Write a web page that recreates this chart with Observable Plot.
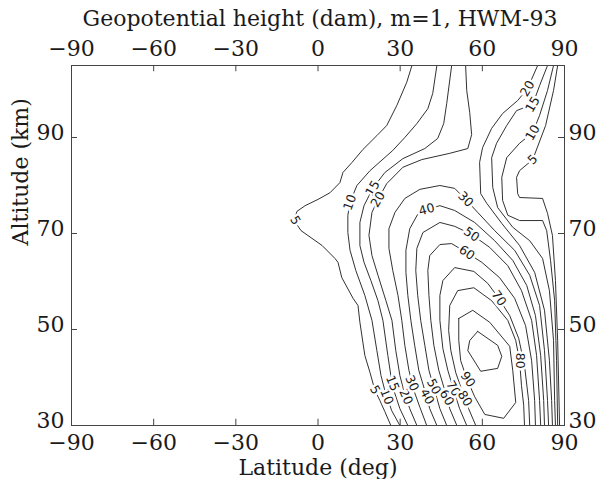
<!DOCTYPE html>
<html><head><meta charset="utf-8">
<script src="https://cdn.jsdelivr.net/npm/d3@7"></script>
<script src="https://cdn.jsdelivr.net/npm/@observablehq/plot@0.6"></script>
<style>html,body{margin:0;padding:0;background:#fff}svg{display:block}</style>
</head><body><div id="chart"></div>
<script>
// Axis ticks
const xTicks = [-90, -60, -30, 0, 30, 60, 90];
const yTicks = [30, 50, 70, 90];

// Contour lines, [latitude (deg), altitude (km)]
const c5Left = [[34.3,105],[32.4,101.5],[28.8,96.7],[25.1,92.5],[21.5,90.4],[16.4,87.5],[12.4,84.8],[9.1,82.7],[8.0,80.6],[4.4,78.5],[0,77.1],[-4.7,75.8],[-7.7,74.6],[-8.7,72.7],[-6.2,70.6],[1.5,67.5],[6.2,64.8],[7.3,64.0],[8.7,60.8],[12.8,56.5],[14.6,55.0],[15.3,51.5],[17.1,44.6],[19.0,41.0],[20.8,37.3],[22.6,35.2],[24.4,32.9],[26.6,30]];
const c10Left = [[43.4,105],[41.9,99.2],[40.1,96.0],[36.1,92.9],[31.7,90.0],[27.3,87.3],[19.0,83.1],[14.2,80.0],[11.7,76.5],[10.9,73.8],[10.9,70.2],[11.7,66.5],[13.8,62.3],[17.1,57.1],[19.7,51.9],[21.5,45.6],[23.0,40.4],[24.4,37.3],[26.9,33.1],[29.9,30]];
const c15Left = [[48.8,105],[47.0,97.1],[45.9,92.9],[43.7,89.8],[39.0,87.7],[31.0,85.6],[24.4,82.7],[20.0,79.4],[16.8,75.8],[15.3,72.3],[15.3,67.5],[16.8,64.0],[19.3,60.2],[21.9,56.0],[23.7,51.9],[25.5,44.6],[26.6,40.4],[27.7,37.3],[29.9,33.5],[32.8,30]];
const c20Left = [[53.9,105],[54.3,99.8],[55.4,95.2],[56.1,90.6],[54.7,87.7],[48.1,86.7],[37.9,85.4],[31.0,83.8],[25.1,80.4],[21.9,77.1],[19.7,74.4],[18.6,69.6],[19.7,65.4],[21.9,61.3],[24.8,56.0],[27.0,51.9],[28.4,45.6],[29.9,40.4],[31.3,37.3],[33.5,33.5],[36.1,30]];
const c20Right = [[80.2,105],[76.5,100.2],[72.9,97.7],[67.4,95.0],[63.4,91.9],[60.1,87.9],[59.0,84.8],[59.4,78.3],[61.6,76.3],[67.1,72.1],[73.6,67.5],[79.1,61.9],[82.7,54.0],[84.5,43.5],[85.3,35.2],[85.6,30]];
const c15Right = [[83.8,105],[80.9,100.8],[78.4,96.9],[72.5,95.6],[68.9,92.5],[65.2,88.8],[63.4,85.8],[63.8,79.6],[65.6,75.4],[71.1,71.3],[77.3,68.5],[82.0,64.8],[84.5,58.1],[86.0,47.7],[86.4,35.2],[86.7,30]];
const c10Right = [[86.0,105],[83.8,99.8],[80.9,94.6],[78.4,91.0],[73.6,88.8],[68.9,85.8],[67.1,81.7],[67.4,76.9],[69.3,73.8],[73.6,72.7],[82.0,72.7],[83.5,70.6],[84.9,64.4],[86.4,56.0],[87.1,43.5],[87.5,30]];
const c5Right = [[87.5,105],[86.0,99.8],[83.1,92.5],[78.4,85.4],[73.6,83.1],[72.5,81.7],[72.9,78.3],[73.6,77.5],[82.0,77.3],[83.8,74.2],[85.6,69.6],[86.7,60.2],[87.5,47.7],[88.2,30]];
const c30 = [[39.7,30],[37.2,33.8],[35.0,37.3],[33.2,41.5],[31.7,46.7],[30.6,51.9],[29.2,57.1],[27.3,62.3],[25.9,66.9],[25.9,71.0],[28.1,74.4],[31.7,77.3],[37.2,79.2],[44.5,80.0],[49.9,79.4],[53.9,77.1],[58.3,74.4],[64.5,70.6],[71.8,66.5],[77.3,61.3],[80.9,55.0],[82.7,45.6],[83.8,35.2],[84.2,30]];
const c40 = [[43.4,30],[40.8,33.5],[39.0,37.3],[36.8,41.5],[35.3,46.7],[33.9,51.9],[32.8,57.1],[32.1,61.9],[32.1,66.5],[33.5,71.0],[36.4,74.0],[39.7,75.0],[44.5,75.8],[49.9,74.8],[57.2,72.3],[64.5,68.5],[71.1,64.4],[76.2,59.2],[79.4,52.9],[81.3,44.6],[82.4,35.2],[82.7,30]];
const c50 = [[47.0,30],[44.5,33.5],[42.6,37.3],[40.5,41.5],[39.0,46.7],[37.5,51.9],[36.4,57.1],[35.7,62.3],[36.1,66.9],[38.3,70.2],[44.5,72.3],[49.9,71.5],[56.1,69.8],[62.7,67.1],[69.3,63.3],[74.3,58.1],[78.0,51.9],[79.8,44.6],[80.9,35.2],[81.3,30]];
const c60 = [[50.7,30],[48.1,33.5],[46.3,37.3],[44.1,41.5],[42.3,46.7],[41.2,51.9],[40.5,57.1],[40.1,62.3],[40.8,65.4],[44.5,67.7],[48.8,67.9],[54.3,66.0],[59.8,64.0],[66.3,60.8],[71.8,56.5],[75.8,50.8],[78.0,43.5],[79.1,35.2],[79.4,30]];
const c70 = [[54.3,30],[51.7,33.5],[49.6,37.3],[47.4,41.5],[45.6,46.0],[44.5,51.9],[44.5,57.1],[45.6,60.2],[49.9,62.9],[56.9,62.1],[62.0,59.6],[66.0,56.5],[70.0,52.9],[73.3,48.1],[75.4,42.5],[76.9,35.2],[77.3,30]];
const c80 = [[57.6,30],[55.0,33.5],[52.8,36.9],[50.3,41.0],[48.5,45.6],[47.7,49.8],[48.1,55.0],[51.0,58.1],[56.9,58.7],[63.4,56.0],[69.3,51.9],[72.2,47.7],[73.6,43.5],[74.3,38.3],[75.1,34.2],[75.4,30]];
const c90 = [[51.4,52.3],[56.5,54.0],[62.7,51.5],[70.0,46.5],[71.1,41.5],[72.2,34.8],[67.8,31.5],[60.9,32.3],[57.2,36.0],[54.3,39.8],[52.1,43.5],[51.4,47.7],[51.4,52.3]];
const c100 = [[58.3,49.6],[65.6,46.7],[67.1,44.4],[65.6,41.9],[59.4,41.3],[54.7,45.6],[55.4,47.7],[58.3,49.6]];

// Contour labels
const labelValues = [5, 10, 15, 20, 40, 30, 50, 60, 70, 80, 20, 15, 10, 5, 5, 10, 15, 20, 30, 40, 50, 60, 70, 80, 90];
const labelLat    = [-8.3, 11.7, 20.0, 21.9, 39.7, 53.9, 56.1, 54.3, 66.0, 73.6, 76.5, 78.4, 78.4, 78.4, 20.8, 25.1, 27.2, 32.1, 34.3, 39.8, 42.3, 47.0, 49.4, 53.6, 54.7];
const labelAlt    = [72.7, 76.5, 79.4, 77.1, 75.0, 77.1, 69.8, 66.0, 56.5, 43.5, 100.2, 96.9, 91.0, 85.4, 37.4, 36.0, 38.8, 36.0, 38.8, 36.0, 38.1, 35.8, 37.7, 35.6, 39.6];
const labelAngle  = [60, -70, -60, -60, -15, 45, 35, 35, 55, 90, -60, -60, -60, -45, 60, 68, 68, 65, 65, 62, 62, 60, 60, 58, 55];

const contours = [c5Left, c10Left, c15Left, c20Left, c20Right, c15Right, c10Right, c5Right, c30, c40, c50, c60, c70, c80, c90, c100];
const lines = contours.flatMap((pts, i) => pts.map(([lat, alt]) => ({id: i, lat, alt})));
const labels = labelValues.map((v, i) => ({v, lat: labelLat[i], alt: labelAlt[i], a: labelAngle[i]}));

const ink = "#1a1a1a";
const chart = Plot.plot({
  width: 599, height: 479,
  marginLeft: 71, marginRight: 35, marginTop: 65, marginBottom: 54,
  style: {fontFamily: "'DejaVu Serif', serif", background: "#fff", color: ink, overflow: "visible"},
  x: {domain: [-90, 90]},
  y: {domain: [30, 105]},
  marks: [
    Plot.line(lines, {x: "lat", y: "alt", z: "id", stroke: ink, strokeWidth: 0.9, clip: true}),
    Plot.text(labels, {x: "lat", y: "alt", text: d => String(d.v), rotate: "a", fontSize: 12.5,
      fontFamily: "'DejaVu Sans', sans-serif", fill: ink, stroke: "white", strokeWidth: 5, paintOrder: "stroke"}),
    Plot.frame({stroke: "#444", strokeWidth: 1}),
    Plot.ruleX(xTicks.slice(1, -1), {y1: 30, y2: 31.3, stroke: "#444"}),
    Plot.ruleX(xTicks.slice(1, -1), {y1: 105, y2: 103.7, stroke: "#444"}),
    Plot.ruleY(yTicks.slice(1), {x1: -90, x2: -87.8, stroke: "#444"}),
    Plot.ruleY(yTicks.slice(1), {x1: 90, x2: 87.8, stroke: "#444"}),
    Plot.axisX({ticks: xTicks, anchor: "bottom", tickSize: 0, tickPadding: 9, fontSize: 22, label: null}),
    Plot.axisX({ticks: xTicks, anchor: "top", tickSize: 0, tickPadding: 10, fontSize: 22, label: null}),
    Plot.axisY({ticks: yTicks, anchor: "left", tickSize: 0, tickPadding: 7, fontSize: 22, dy: -5, label: null}),
    Plot.axisY({ticks: yTicks, anchor: "right", tickSize: 0, tickPadding: 4, fontSize: 22, dy: -5, label: null}),
    Plot.text(["Geopotential height (dam), m=1, HWM-93"], {text: d => d, frameAnchor: "top", dy: -47, dx: 2, fontSize: 22, lineAnchor: "middle"}),
    Plot.text(["Latitude (deg)"], {text: d => d, frameAnchor: "bottom", dy: 42, fontSize: 22, lineAnchor: "middle"}),
    Plot.text(["Altitude (km)"], {text: d => d, frameAnchor: "left", dx: -51, rotate: -90, fontSize: 22, lineAnchor: "middle"})
  ]
});
document.getElementById("chart").appendChild(chart);
</script>
</body></html>
